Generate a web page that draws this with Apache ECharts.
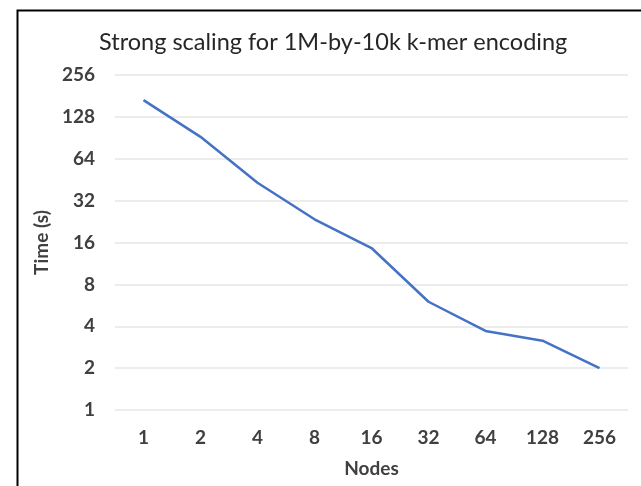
<!DOCTYPE html>
<html>
<head>
<meta charset="utf-8">
<script src="https://cdn.jsdelivr.net/npm/echarts@6/dist/echarts.min.js"></script>
<style>
  html, body { margin: 0; padding: 0; background: #fff; }
  #chart { width: 641px; height: 486px; }
</style>
</head>
<body>
<div id="chart"></div>
<script>
// nodes on the x axis, time in seconds on a log2 y axis
const nodes = ['1', '2', '4', '8', '16', '32', '64', '128', '256'];
const timeSec = [169, 92, 43, 23.5, 14.6, 6.0, 3.7, 3.15, 2.0];

const font = 'Lato, "Open Sans", sans-serif';
const labelStyle = { fontFamily: font, fontSize: 19, fontWeight: 'bold', color: '#404040' };

const chart = echarts.init(document.getElementById('chart'));
const option = {
    backgroundColor: '#fff',
    animation: false,
    title: {
        text: 'Strong scaling for 1M-by-10k k-mer encoding',
        left: 94,
        top: 25,
        textStyle: {
            fontFamily: font,
            fontWeight: 'normal',
            fontSize: 23.5,
            color: '#262626'
        }
    },
    grid: {
        left: 115,
        right: 13,
        top: 75,
        bottom: 76
    },
    xAxis: {
        type: 'category',
        data: nodes,
        boundaryGap: true,
        name: 'Nodes',
        nameLocation: 'middle',
        nameGap: 49,
        nameTextStyle: labelStyle,
        axisLine: { show: false },
        axisTick: { show: false },
        axisLabel: Object.assign({ margin: 18 }, labelStyle)
    },
    yAxis: {
        type: 'log',
        logBase: 2,
        min: 1,
        max: 256,
        name: 'Time (s)',
        nameLocation: 'middle',
        nameGap: 61,
        nameTextStyle: labelStyle,
        axisLine: { show: false },
        axisTick: { show: false },
        axisLabel: Object.assign({ margin: 20 }, labelStyle),
        splitLine: { lineStyle: { color: '#e6e6e6', width: 1.5 } }
    },
    series: [{
        type: 'line',
        data: timeSec,
        symbol: 'none',
        lineStyle: { color: '#4472c4', width: 2.5 }
    }],
    graphic: [{
        type: 'polyline',
        shape: { points: [[17.5, 486], [17.5, 10.5], [641, 10.5]] },
        style: { stroke: '#000', lineWidth: 2, fill: null }
    }]
};
chart.setOption(option);
</script>
</body>
</html>
